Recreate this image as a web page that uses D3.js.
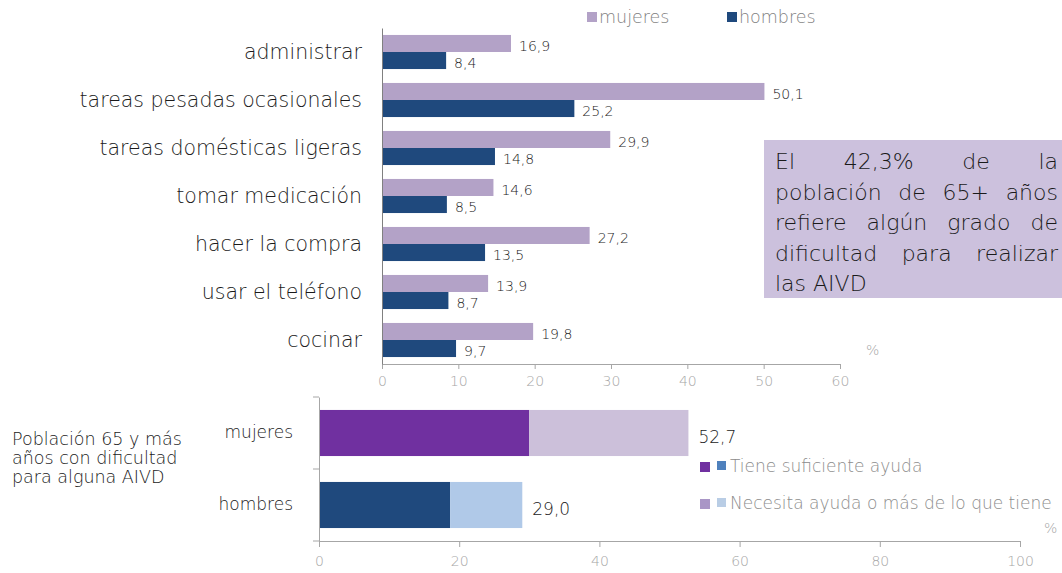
<!DOCTYPE html>
<html>
<head>
<meta charset="utf-8">
<script src="https://cdn.jsdelivr.net/npm/d3@7"></script>
<style>
  body { margin: 0; background: #fff; }
  svg { font-family: "DejaVu Sans", sans-serif; font-weight: 200; }
</style>
</head>
<body>
<div id="chart"></div>
<script>
// top chart: AIVD with difficulty, by sex (%)
const actividades = ["administrar", "tareas pesadas ocasionales", "tareas domésticas ligeras",
  "tomar medicación", "hacer la compra", "usar el teléfono", "cocinar"];
const sexos = ["mujeres", "hombres"];
const valoresMujeres = [16.9, 50.1, 29.9, 14.6, 27.2, 13.9, 19.8];
const valoresHombres = [8.4, 25.2, 14.8, 8.5, 13.5, 8.7, 9.7];
const ticksArriba = [0, 10, 20, 30, 40, 50, 60];

// bottom chart: population 65+ with difficulty, stacked by help status
const gruposAbajo = ["mujeres", "hombres"];
const tieneAyuda = [30.0, 18.7];
const necesitaAyuda = [22.7, 10.3];
const totalesAbajo = [52.7, 29.0];
const ticksAbajo = [0, 20, 40, 60, 80, 100];
const leyendaAbajo = ["Tiene suficiente ayuda", "Necesita ayuda o más de lo que tiene"];

const notaLineas = ["El 42,3% de la", "población de 65+ años", "refiere algún grado de",
  "dificultad para realizar", "las AIVD"];
const tituloAbajo = ["Población 65 y más", "años con dificultad", "para alguna AIVD"];

const W = 1062, H = 573;
const fmt = v => d3.format(".1f")(v).replace(".", ",");
const colMuj = "#b3a2c7", colHom = "#1f497d";
const axisCol = "#a6a6a6", textCol = "#1a1a1a";

const svg = d3.select("#chart").append("svg")
  .attr("width", W).attr("height", H);

// ---------- top chart ----------
const x1 = d3.scaleLinear().domain([0, 60]).range([382, 840]);
const y1 = d3.scaleBand().domain(actividades).range([28, 364])
  .paddingInner(0.29).paddingOuter(0.145);
const ySub = d3.scaleBand().domain(sexos).range([0, y1.bandwidth()]);

const filas = actividades.map((a, i) => ({ a, mujeres: valoresMujeres[i], hombres: valoresHombres[i] }));

const grupos = svg.append("g").selectAll("g")
  .data(filas).join("g")
  .attr("transform", d => `translate(0,${y1(d.a)})`);

grupos.selectAll("rect")
  .data(d => sexos.map(s => ({ s, v: d[s] })))
  .join("rect")
  .attr("x", x1(0))
  .attr("y", d => ySub(d.s))
  .attr("width", d => x1(d.v) - x1(0))
  .attr("height", ySub.bandwidth())
  .attr("fill", d => d.s === "mujeres" ? colMuj : colHom);

grupos.selectAll("text")
  .data(d => sexos.map(s => ({ s, v: d[s] })))
  .join("text")
  .attr("x", d => x1(d.v) + 8)
  .attr("y", d => ySub(d.s) + ySub.bandwidth() / 2 + 3)
  .attr("dy", "0.35em")
  .attr("fill", textCol)
  .style("font-size", "14px")
  .text(d => fmt(d.v));

// x axis
const ax1 = svg.append("g")
  .attr("transform", `translate(0,${y1.range()[1]})`)
  .call(d3.axisBottom(x1).tickValues(ticksArriba).tickSize(5).tickPadding(7))
  .attr("font-family", null).attr("font-size", null);
ax1.selectAll("text").attr("fill", axisCol).style("font-size", "14px");
ax1.selectAll("line, path").attr("stroke", axisCol);

// y axis
const ay1 = svg.append("g")
  .attr("transform", `translate(${x1(0)},0)`)
  .call(d3.axisLeft(y1).tickSize(0).tickPadding(20).tickSizeOuter(0))
  .attr("font-family", null).attr("font-size", null);
ay1.select("path").attr("stroke", "#808080");
ay1.selectAll("text").attr("fill", textCol).style("font-size", "20.5px");

svg.append("text").attr("x", 866).attr("y", 355)
  .attr("fill", axisCol).style("font-size", "14px").text("%");

// legend top
const legTop = svg.append("g").selectAll("g")
  .data(sexos).join("g")
  .attr("transform", (d, i) => `translate(${587 + i * 140},12)`);
legTop.append("rect").attr("width", 10).attr("height", 10)
  .attr("fill", d => d === "mujeres" ? colMuj : colHom);
legTop.append("text").attr("x", 12).attr("y", 5).attr("dy", "0.35em")
  .attr("fill", "#7f7f7f").style("font-size", "17.5px").text(d => d);

// note box
const box = { x: 764, y: 140, w: 300, h: 158 };
svg.append("rect").attr("x", box.x).attr("y", box.y)
  .attr("width", box.w).attr("height", box.h).attr("fill", "#ccc1dd");
const nota = svg.append("g").attr("fill", textCol).style("font-size", "22px");
const left = box.x + 11, right = 1058;
notaLineas.forEach((linea, li) => {
  const palabras = linea.split(" ");
  const yy = 169 + li * 30.5;
  const tmp = palabras.map(p => nota.append("text").attr("y", yy).text(p));
  const anchos = tmp.map(t => t.node().getComputedTextLength());
  const total = d3.sum(anchos);
  const ultima = li === notaLineas.length - 1;
  const gap = ultima || palabras.length < 2 ? 7 : (right - left - total) / (palabras.length - 1);
  let cx = left;
  tmp.forEach((t, k) => { t.attr("x", cx); cx += anchos[k] + gap; });
});

// ---------- bottom chart ----------
const x2 = d3.scaleLinear().domain([0, 100]).range([319, 1020]);
const y2 = d3.scaleBand().domain(gruposAbajo).range([397, 541])
  .paddingInner(0.36).paddingOuter(0.18);
const colores2 = {
  mujeres: ["#7030a0", "#ccc0da"],
  hombres: ["#1f497d", "#b0c9e8"]
};

const filas2 = gruposAbajo.map((g, i) => ({ g, a: tieneAyuda[i], n: necesitaAyuda[i], t: totalesAbajo[i] }));
const barras2 = svg.append("g").selectAll("g").data(filas2).join("g");
barras2.append("rect")
  .attr("x", x2(0)).attr("y", d => y2(d.g))
  .attr("width", d => x2(d.a) - x2(0)).attr("height", y2.bandwidth())
  .attr("fill", d => colores2[d.g][0]);
barras2.append("rect")
  .attr("x", d => x2(d.a)).attr("y", d => y2(d.g))
  .attr("width", d => x2(d.a + d.n) - x2(d.a)).attr("height", y2.bandwidth())
  .attr("fill", d => colores2[d.g][1]);
barras2.append("text")
  .attr("x", d => x2(d.t) + 10).attr("y", d => y2(d.g) + y2.bandwidth() / 2 + 4)
  .attr("dy", "0.35em").attr("fill", textCol).style("font-size", "17px")
  .text(d => fmt(d.t));

const ax2 = svg.append("g")
  .attr("transform", `translate(0,${y2.range()[1]})`)
  .call(d3.axisBottom(x2).tickValues(ticksAbajo).tickSize(6).tickPadding(9).tickSizeOuter(0))
  .attr("font-family", null).attr("font-size", null);
ax2.selectAll("text").attr("fill", axisCol).style("font-size", "14px");
ax2.selectAll("line, path").attr("stroke", axisCol);

const ay2 = svg.append("g")
  .attr("transform", `translate(${x2(0)},0)`)
  .call(d3.axisLeft(y2).tickSize(0).tickPadding(26).tickSizeOuter(0))
  .attr("font-family", null).attr("font-size", null);
ay2.select("path").attr("stroke", axisCol);
ay2.selectAll("text").attr("fill", textCol).style("font-size", "17px");
// boundary ticks between categories
const gap2 = y2.step() * y2.paddingInner() / 2;
const limites = gruposAbajo.map(g => y2(g) - gap2).concat([y2(gruposAbajo[gruposAbajo.length - 1]) + y2.bandwidth() + gap2]);
svg.append("g").selectAll("line").data(limites).join("line")
  .attr("x1", x2(0) - 6).attr("x2", x2(0))
  .attr("y1", d => d).attr("y2", d => d).attr("stroke", axisCol);

svg.append("text").attr("x", 1044).attr("y", 533)
  .attr("fill", axisCol).style("font-size", "14px").text("%");

// legend bottom
const legB = svg.append("g").selectAll("g").data(leyendaAbajo).join("g")
  .attr("transform", (d, i) => `translate(700,${462 + i * 37})`);
legB.append("rect").attr("width", 10).attr("height", 10)
  .attr("fill", (d, i) => i === 0 ? "#7030a0" : "#a996c6");
legB.append("rect").attr("x", 17).attr("y", -1).attr("width", 9).attr("height", 9)
  .attr("fill", (d, i) => i === 0 ? "#4f81bd" : "#b9cde5");
legB.append("text").attr("x", 30).attr("y", 4).attr("dy", "0.35em")
  .attr("fill", "#8c8c8c").style("font-size", "17px").text(d => d);

// left title
svg.append("g").attr("fill", textCol).style("font-size", "17.5px")
  .selectAll("text").data(tituloAbajo).join("text")
  .attr("x", 12).attr("y", (d, i) => 445 + i * 19).text(d => d);
</script>
</body>
</html>
